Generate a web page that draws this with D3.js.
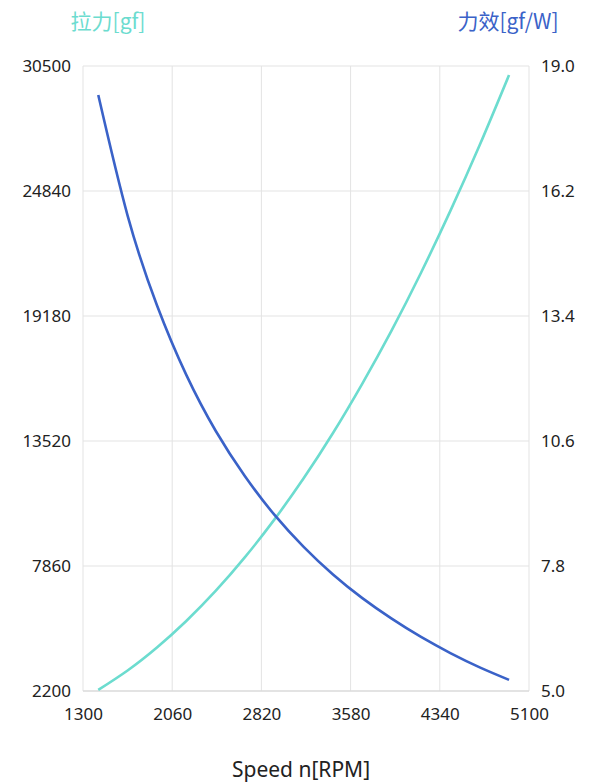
<!DOCTYPE html>
<html lang="zh">
<head>
<meta charset="UTF-8">
<title>拉力 / 力效</title>
<script src="https://d3js.org/d3.v7.min.js"></script>
<style>
  body { margin: 0; background: #fff; }
  svg text { font-family: "Noto Sans", "Noto Sans CJK SC", sans-serif; }
</style>
</head>
<body>
<script>
// 转速 (RPM)
const speeds = [1430, 1680, 1930, 2180, 2430, 2680, 2930, 3180, 3430, 3680, 3930, 4180, 4430, 4680, 4930];
// 拉力 gf
const thrust = [2250, 3130, 4170, 5370, 6730, 8260, 9960, 11830, 13880, 16120, 18530, 21140, 23940, 26920, 30090];
// 力效 gf/W
const efficiency = [18.35, 15.65, 13.64, 12.08, 10.83, 9.81, 8.95, 8.23, 7.61, 7.08, 6.62, 6.21, 5.85, 5.53, 5.25];

const xTicks = [1300, 2060, 2820, 3580, 4340, 5100];
const yLeftTicks = [2200, 7860, 13520, 19180, 24840, 30500];
const yRightTicks = [5.0, 7.8, 10.6, 13.4, 16.2, 19.0];

const width = 600, height = 782;
const margin = { top: 66, right: 71, bottom: 91, left: 83 };

const cyan = "#6cdccf";
const blue = "#3a62c8";

const svg = d3.select("body").append("svg")
    .attr("width", width)
    .attr("height", height);

const x = d3.scaleLinear().domain([1300, 5100]).range([margin.left, width - margin.right]);
const yL = d3.scaleLinear().domain([2200, 30500]).range([height - margin.bottom, margin.top]);
const yR = d3.scaleLinear().domain([5, 19]).range([height - margin.bottom, margin.top]);

// 网格
svg.append("g")
    .selectAll("line")
    .data(xTicks)
    .join("line")
    .attr("x1", d => x(d)).attr("x2", d => x(d))
    .attr("y1", margin.top).attr("y2", height - margin.bottom)
    .attr("stroke", "#e3e3e3").attr("stroke-width", 1);

svg.append("g")
    .selectAll("line")
    .data(yLeftTicks)
    .join("line")
    .attr("x1", margin.left).attr("x2", width - margin.right)
    .attr("y1", d => yL(d)).attr("y2", d => yL(d))
    .attr("stroke", "#e3e3e3").attr("stroke-width", 1);

// 底部轴线
svg.append("line")
    .attr("x1", margin.left).attr("x2", width - margin.right)
    .attr("y1", yL(2200)).attr("y2", yL(2200))
    .attr("stroke", "#d6d6d6").attr("stroke-width", 1.2);

// 坐标轴
const xAxis = svg.append("g")
    .attr("transform", "translate(0," + (height - margin.bottom) + ")")
    .call(d3.axisBottom(x).tickValues(xTicks).tickSize(0).tickPadding(17).tickFormat(d3.format("d")));
xAxis.select(".domain").remove();

const leftAxis = svg.append("g")
    .attr("transform", "translate(" + margin.left + ",0)")
    .call(d3.axisLeft(yL).tickValues(yLeftTicks).tickSize(0).tickPadding(12).tickFormat(d3.format("d")));
leftAxis.select(".domain").remove();

const rightAxis = svg.append("g")
    .attr("transform", "translate(" + (width - margin.right) + ",0)")
    .call(d3.axisRight(yR).tickValues(yRightTicks).tickSize(0).tickPadding(12).tickFormat(d3.format(".1f")));
rightAxis.select(".domain").remove();

svg.selectAll(".tick text")
    .attr("font-size", 17)
    .attr("fill", "#222")
    .style("font-family", '"Noto Sans", sans-serif');

// 曲线
const thrustLine = d3.line()
    .x((d, i) => x(speeds[i]))
    .y(d => yL(d))
    .curve(d3.curveNatural);

const effLine = d3.line()
    .x((d, i) => x(speeds[i]))
    .y(d => yR(d))
    .curve(d3.curveNatural);

svg.append("path")
    .datum(thrust)
    .attr("d", thrustLine)
    .attr("fill", "none")
    .attr("stroke", cyan)
    .attr("stroke-width", 2.6);

svg.append("path")
    .datum(efficiency)
    .attr("d", effLine)
    .attr("fill", "none")
    .attr("stroke", blue)
    .attr("stroke-width", 2.6);

// 标题
svg.append("text")
    .attr("x", 108).attr("y", 29)
    .attr("text-anchor", "middle")
    .attr("font-size", 21)
    .attr("fill", cyan)
    .style("font-family", '"Noto Sans CJK SC", sans-serif')
    .text("拉力[gf]");

svg.append("text")
    .attr("x", 508).attr("y", 29)
    .attr("text-anchor", "middle")
    .attr("font-size", 21)
    .attr("fill", blue)
    .style("font-family", '"Noto Sans CJK SC", sans-serif')
    .text("力效[gf/W]");

svg.append("text")
    .attr("x", 301).attr("y", 777)
    .attr("text-anchor", "middle")
    .attr("font-size", 21)
    .attr("fill", "#222")
    .text("Speed n[RPM]");
</script>
</body>
</html>
